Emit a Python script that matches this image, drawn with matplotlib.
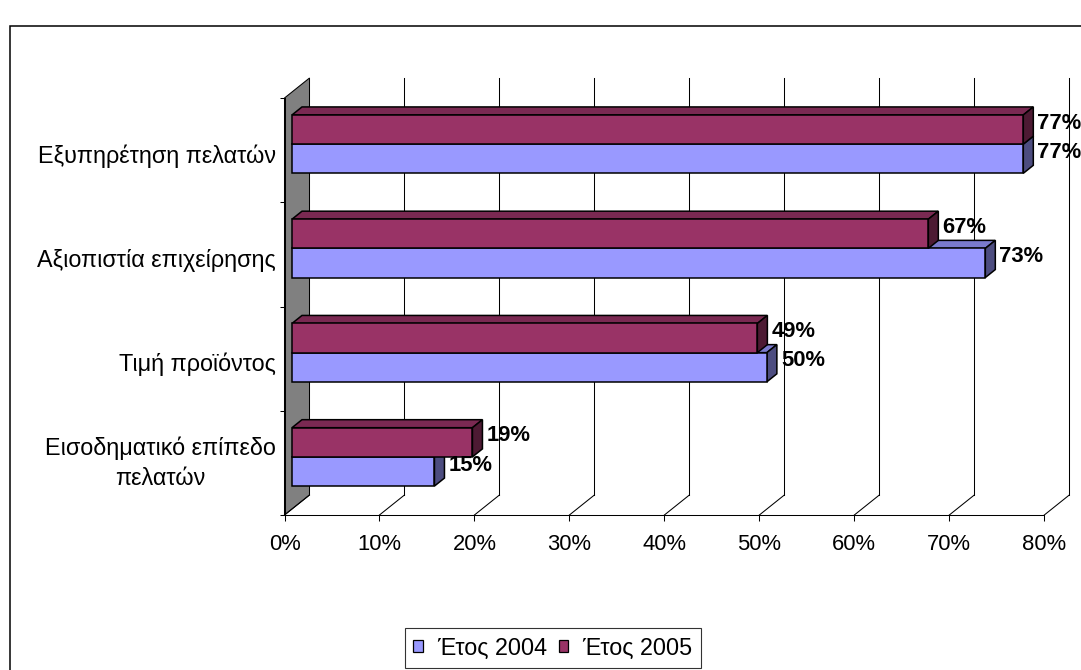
import matplotlib
matplotlib.use("Agg")
import matplotlib.pyplot as plt
from matplotlib.patches import Polygon, Rectangle, Patch
from matplotlib.transforms import offset_copy

plt.rcParams['font.family'] = ['Liberation Sans', 'DejaVu Sans']

# ---- data -------------------------------------------------------------
categories = ["Εισοδηματικό επίπεδο\nπελατών",
              "Τιμή προϊόντος",
              "Αξιοπιστία επιχείρησης",
              "Εξυπηρέτηση πελατών"]
year_2004 = [15, 50, 73, 77]
year_2005 = [19, 49, 67, 77]
series_names = ["Έτος 2004", "Έτος 2005"]
x_ticks = [0, 10, 20, 30, 40, 50, 60, 70, 80]
x_tick_labels = [f"{t}%" for t in x_ticks]

# ---- style ------------------------------------------------------------
COL_2004 = "#9999FF"
COL_2005 = "#993366"
WALL = "#808080"
FS = 15.8      # numbers
FS_TXT = 16.8  # Greek text

W, H, DPI = 1081, 670, 100
fig = plt.figure(figsize=(W / DPI, H / DPI), dpi=DPI, facecolor="white")

# outer chart-area frame
fig.add_artist(Rectangle((9.5 / W, -0.2), 1.2, 1.2 - 26 / H,
                         transform=fig.transFigure, fill=False,
                         edgecolor="black", linewidth=1.1))

ax = fig.add_axes([284.5 / W, 1 - 515 / H, 759.8 / W, 417 / H])
ax.set_xlim(0, 80)
ax.set_ylim(0, len(categories))
ax.patch.set_visible(False)

# oblique depth projection expressed in data units
DX = 25 / (759.8 / 80)
DY = 20 / (417 / 4)


def P(v, y, f):
    return (v + DX * f, y + DY * f)


def shade(hexcol, k):
    r, g, b = matplotlib.colors.to_rgb(hexcol)
    return (r * k, g * k, b * k)


LW = 0.75
# side wall
ax.add_patch(Polygon([P(0, 0, 0), P(0, 4, 0), P(0, 4, 1), P(0, 0, 1)],
                     closed=True, facecolor=WALL, edgecolor="black",
                     linewidth=LW, clip_on=False, zorder=1))
# back gridlines and floor diagonals
for t in x_ticks[1:]:
    ax.plot(*zip(P(t, 0, 1), P(t, 4, 1)), color="black", lw=LW,
            clip_on=False, zorder=1)
for t in x_ticks:
    ax.plot(*zip(P(t, 0, 0), P(t, 0, 1)), color="black", lw=LW,
            clip_on=False, zorder=1)

BAR_H = 0.28
F0, F1 = 0.3, 0.7


def bar3d(value, y0, y1, color, z):
    front = [P(0, y0, F0), P(value, y0, F0), P(value, y1, F0), P(0, y1, F0)]
    top = [P(0, y1, F0), P(value, y1, F0), P(value, y1, F1), P(0, y1, F1)]
    side = [P(value, y0, F0), P(value, y0, F1), P(value, y1, F1), P(value, y1, F0)]
    kw = dict(closed=True, edgecolor="black", linewidth=1.1,
              joinstyle="miter", clip_on=False, zorder=z)
    ax.add_patch(Polygon(top, facecolor=shade(color, 0.8), **kw))
    ax.add_patch(Polygon(side, facecolor=shade(color, 0.5), **kw))
    ax.add_patch(Polygon(front, facecolor=color, **kw))


PAD = 4 / (759.8 / 80)
for i, (v4, v5) in enumerate(zip(year_2004, year_2005)):
    c = i + 0.5
    bar3d(v4, c - BAR_H, c, COL_2004, 3 + 2 * i)
    bar3d(v5, c, c + BAR_H, COL_2005, 4 + 2 * i)
    for v, yc in ((v4, c - BAR_H / 2), (v5, c + BAR_H / 2)):
        x, y = P(v, yc, 0.62)
        ax.text(v + DX * F1 + PAD, y, f"{v}%", ha="left", va="center",
                fontsize=FS, fontweight="bold", zorder=20, clip_on=False)

# axes, ticks and labels
for s in ("top", "right"):
    ax.spines[s].set_visible(False)
for s in ("left", "bottom"):
    ax.spines[s].set_linewidth(LW)
    ax.spines[s].set_zorder(2)

ax.set_xticks(x_ticks)
ax.set_xticklabels(x_tick_labels)
ax.tick_params(axis="x", direction="out", length=4.3, width=LW, pad=9.3,
               labelsize=FS)
ax.set_yticks(range(len(categories) + 1))
ax.set_yticklabels([])
ax.tick_params(axis="y", which="major", direction="out", length=3.6, width=LW)

# category names, right-aligned beside the wall
for i, name in enumerate(categories):
    one_line = "\n" not in name
    tr = offset_copy(ax.transData, fig=fig, x=-8.5, y=-6 if one_line else 0,
                     units="dots")
    ax.text(0, i + 0.5, name, transform=tr, ha="right", va="center",
            multialignment="center", linespacing=1.4, fontsize=FS_TXT,
            clip_on=False)

handles = [Patch(facecolor=COL_2004, edgecolor="black", linewidth=0.9),
           Patch(facecolor=COL_2005, edgecolor="black", linewidth=0.9)]
leg = fig.legend(handles, series_names, loc="center",
                 bbox_to_anchor=(553 / W, 1 - 648 / H), ncol=2,
                 fontsize=FS_TXT, frameon=True, fancybox=False,
                 handlelength=0.4, handleheight=0.4, handletextpad=0.62,
                 columnspacing=0.5, borderpad=0.36, borderaxespad=0)
leg.get_frame().set_edgecolor("black")
leg.get_frame().set_linewidth(0.8)

fig.savefig("out.png", dpi=DPI, facecolor="white")
